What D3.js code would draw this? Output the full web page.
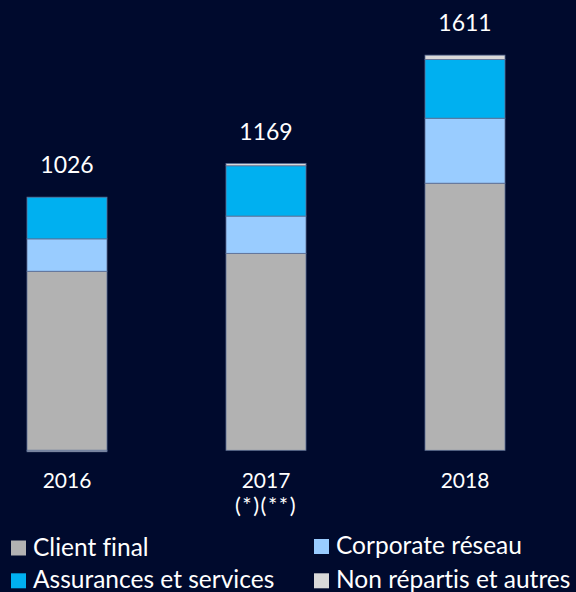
<!DOCTYPE html>
<html>
<head>
<meta charset="utf-8">
<script src="https://cdn.jsdelivr.net/npm/d3@7/dist/d3.min.js"></script>
<style>
html,body{margin:0;padding:0;background:#000a2d;}
svg{display:block;}
text{font-family:Lato,"Open Sans",sans-serif;fill:#ffffff;font-variant-ligatures:none;}
</style>
</head>
<body>
<svg id="chart" width="576" height="592"></svg>
<script>
const years = ["2016", "2017", "2018"];
const yearNotes = ["", "(*)(**)", ""];
const totals = [1026, 1169, 1611];
const seriesNames = ["Client final", "Corporate réseau", "Assurances et services", "Non répartis et autres"];
const clientFinal = [730, 803, 1089];
const corporateReseau = [132, 152, 265];
const assurances = [170, 205, 239];
const nonRepartis = [-6, 9, 18];
const colors = ["#b2b2b2", "#99ccff", "#00b0f0", "#d9d9d9"];

const svg = d3.select("#chart");
const keys = ["c", "r", "a", "n"];
const rows = years.map((y, i) => ({year: y, c: clientFinal[i], r: corporateReseau[i], a: assurances[i], n: nonRepartis[i]}));

const x = d3.scaleBand().domain(years).range([-32.5, 564.5]).paddingInner(0.598).paddingOuter(0.299);
const y = d3.scaleLinear().domain([0, 1800]).range([450.3, 8.8]);

const stack = d3.stack().keys(keys).offset(d3.stackOffsetDiverging);
const layers = stack(rows);

svg.append("g").selectAll("g").data(layers).join("g")
  .attr("fill", (d, i) => colors[i])
  .selectAll("rect").data(d => d).join("rect")
  .attr("x", d => x(d.data.year))
  .attr("width", x.bandwidth())
  .attr("y", d => y(Math.max(d[0], d[1])))
  .attr("height", d => Math.abs(y(d[0]) - y(d[1])))
  .attr("stroke", "#5d6f95")
  .attr("stroke-width", 0.8);

// totals
svg.append("g").selectAll("text").data(years).join("text")
  .attr("x", d => x(d) + x.bandwidth() / 2)
  .attr("y", (d, i) => {
    const top = d3.max(layers, l => l[i][1]);
    return y(top) - 24;
  })
  .attr("text-anchor", "middle")
  .attr("font-size", 23)
  .text((d, i) => totals[i]);

// category labels
const xl = svg.append("g");
xl.selectAll("text.yr").data(years).join("text").attr("class", "yr")
  .attr("x", d => x(d) + x.bandwidth() / 2)
  .attr("y", 488.3)
  .attr("text-anchor", "middle")
  .attr("font-size", 21)
  .text(d => d);
xl.selectAll("text.nt").data(years.filter((d, i) => yearNotes[i])).join("text").attr("class", "nt")
  .attr("x", d => x(d) + x.bandwidth() / 2)
  .attr("y", 513)
  .attr("text-anchor", "middle")
  .attr("font-size", 22)
  .attr("letter-spacing", 1.5)
  .text(d => yearNotes[years.indexOf(d)]);

// legend
const legPos = [[11, 540.5], [314, 539], [11, 573.3], [314, 573.3]];
const leg = svg.append("g").selectAll("g").data(seriesNames).join("g")
  .attr("transform", (d, i) => `translate(${legPos[i][0]},${legPos[i][1]})`);
leg.append("rect").attr("width", 15).attr("height", 15).attr("fill", (d, i) => colors[i]);
leg.append("text").attr("x", 22).attr("y", 15).attr("font-size", 24.5).text(d => d);
</script>
</body>
</html>
